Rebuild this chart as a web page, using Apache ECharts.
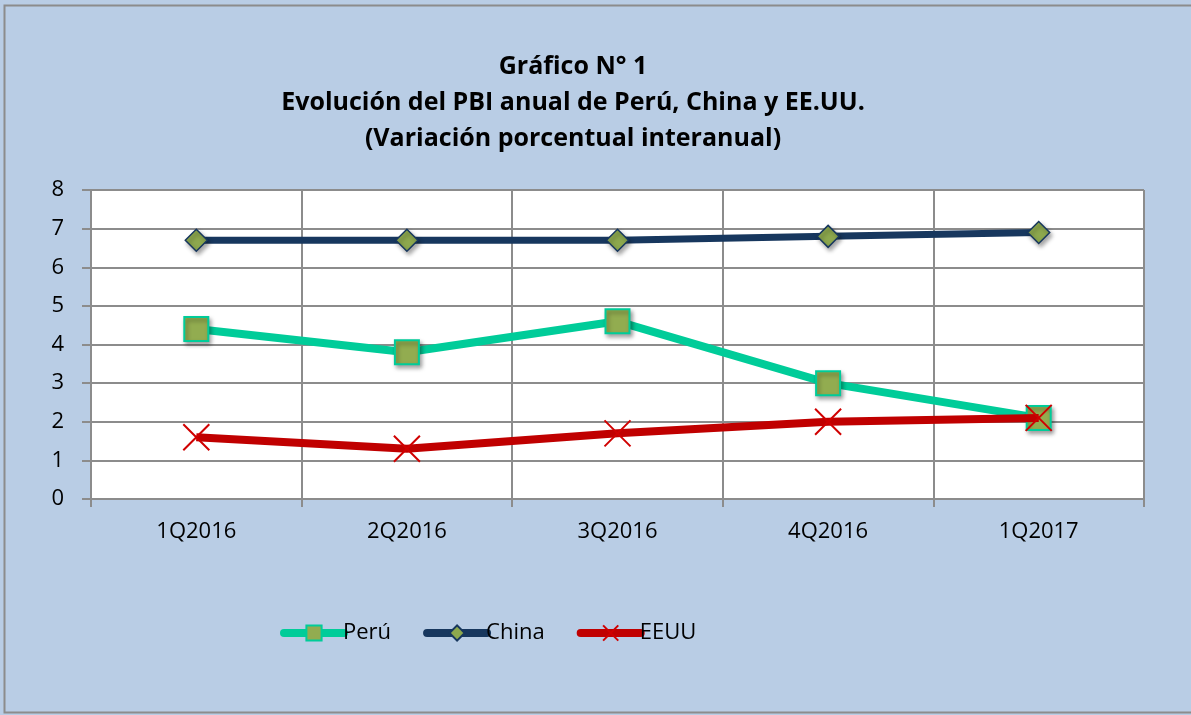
<!DOCTYPE html>
<html>
<head>
<meta charset="utf-8">
<script src="https://cdn.jsdelivr.net/npm/echarts@6/dist/echarts.min.js"></script>
<style>
  body { margin: 0; background: #B9CDE5; }
  #chart { width: 1191px; height: 715px; }
</style>
</head>
<body>
<div id="chart"></div>
<script>
var categories = ['1Q2016', '2Q2016', '3Q2016', '4Q2016', '1Q2017'];
var peru = [4.4, 3.8, 4.6, 3.0, 2.1];
var china = [6.7, 6.7, 6.7, 6.8, 6.9];
var eeuu = [1.6, 1.3, 1.7, 2.0, 2.1];
var yTicks = [0, 8, 1]; // min, max, interval

var font = '"Open Sans", Lato, sans-serif';
var chart = echarts.init(document.getElementById('chart'));
var option = {
    backgroundColor: '#B9CDE5',
    animation: false,
    title: {
        text: 'Gráfico N° 1\nEvolución del PBI anual de Perú, China y EE.UU.\n(Variación porcentual interanual)',
        left: 568, top: 44, textAlign: 'center',
        textStyle: { fontFamily: font, fontSize: 25, fontWeight: 'bold', color: '#000', lineHeight: 36 }
    },
    graphic: [{
        type: 'rect', silent: true, z: -1,
        shape: { x: 4.5, y: 5.5, width: 1200, height: 707 },
        style: { fill: null, stroke: '#8c8c8c', lineWidth: 2 }
    }],
    legend: {
        top: 617, left: 275, itemGap: 32, itemWidth: 60, itemHeight: 19,
        textStyle: { fontFamily: font, fontSize: 22, color: '#000', padding: [0, 0, 0, -6] },
        data: [
            { name: 'Perú', lineStyle: { width: 8, cap: 'round' } },
            { name: 'China', lineStyle: { width: 8, cap: 'round' } },
            { name: 'EEUU', lineStyle: { width: 8, cap: 'round' } }
        ]
    },
    grid: { left: 91, right: 47, top: 190, bottom: 216, show: true, backgroundColor: '#fff', borderWidth: 0 },
    xAxis: {
        type: 'category', data: categories, boundaryGap: true,
        axisLine: { lineStyle: { color: '#8c8c8c', width: 2 } },
        axisTick: { show: true, length: 8, lineStyle: { color: '#8c8c8c', width: 2 } },
        axisLabel: { fontFamily: font, fontSize: 22, color: '#000', margin: 22 },
        splitLine: { show: true, lineStyle: { color: '#8c8c8c', width: 2 } }
    },
    yAxis: {
        type: 'value', min: yTicks[0], max: yTicks[1], interval: yTicks[2],
        axisLine: { show: true, lineStyle: { color: '#8c8c8c', width: 2 } },
        axisTick: { show: true, length: 9, lineStyle: { color: '#8c8c8c', width: 2 } },
        axisLabel: { fontFamily: font, fontSize: 22, color: '#000', margin: 27 },
        splitLine: { show: true, lineStyle: { color: '#8c8c8c', width: 2 } }
    },
    series: [{
        name: 'Perú', type: 'line', data: peru,
        symbol: 'rect', symbolSize: 24,
        lineStyle: { color: '#00CC99', width: 8 },
        itemStyle: { color: '#92AC50', borderColor: '#00CC99', borderWidth: 2,
            shadowColor: 'rgba(0,0,0,0.35)', shadowBlur: 4, shadowOffsetX: 2, shadowOffsetY: 3 },
        z: 3
    }, {
        name: 'China', type: 'line', data: china,
        symbol: 'diamond', symbolSize: 22,
        lineStyle: { color: '#17375E', width: 7 },
        itemStyle: { color: '#8DA84E', borderColor: '#17375E', borderWidth: 1.5,
            shadowColor: 'rgba(0,0,0,0.35)', shadowBlur: 4, shadowOffsetX: 2, shadowOffsetY: 3 },
        z: 2
    }, {
        name: 'EEUU', type: 'line', data: eeuu,
        symbol: 'path://M0,0L10,10M10,0L0,10', symbolSize: 26,
        lineStyle: { color: '#C00000', width: 8 },
        itemStyle: { color: '#C00000', borderColor: '#D00000', borderWidth: 2 },
        z: 4
    }]
};
chart.setOption(option);
</script>
</body>
</html>
